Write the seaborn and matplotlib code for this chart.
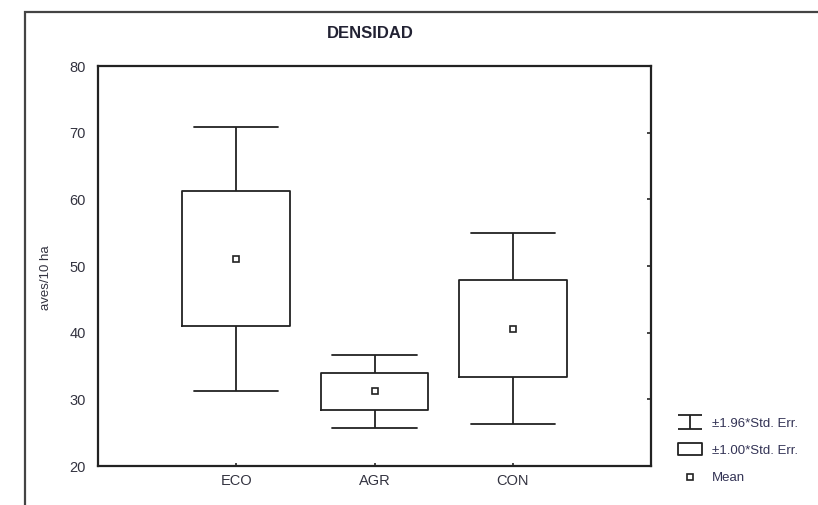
import numpy as np
import pandas as pd
import matplotlib
matplotlib.use("Agg")
import matplotlib.pyplot as plt
from matplotlib.path import Path
from matplotlib.lines import Line2D
from matplotlib.patches import Rectangle
import seaborn as sns

# values
groups = ["ECO", "AGR", "CON"]
means = [51.1, 31.2, 40.6]
std_errs = [10.1, 2.8, 7.3]
yticks = [20, 30, 40, 50, 60, 70, 80]
legend_labels = ["\u00b11.96*Std. Err.", "\u00b11.00*Std. Err.", "Mean"]

sns.set_style("white")
plt.rcParams["font.family"] = ["Liberation Sans", "DejaVu Sans"]
ink = "#222222"

# five points per group so that quartiles = mean +/- SE and min/max = mean +/- 1.96 SE
rows = []
for g, m, s in zip(groups, means, std_errs):
    for k in (-1.96, -1.0, 0.0, 1.0, 1.96):
        rows.append({"grupo": g, "valor": m + k * s})
df = pd.DataFrame(rows)

fig = plt.figure(figsize=(8.18, 5.05), dpi=100)
ax = fig.add_axes([98 / 818, 1 - 466 / 505, 553 / 818, 400 / 505])

sns.boxplot(
    data=df, x="grupo", y="valor", order=groups, ax=ax,
    whis=(0, 100), width=0.78, fill=False, color=ink, linewidth=1.3,
    showmeans=True, showfliers=False,
    medianprops={"linewidth": 0, "alpha": 0},
    meanprops={"marker": "s", "markersize": 4.5, "markerfacecolor": "white",
               "markeredgecolor": ink, "markeredgewidth": 1.2},
)
# widen the caps
for ln in ax.lines:
    xd = np.asarray(ln.get_xdata(), dtype=float)
    yd = np.asarray(ln.get_ydata(), dtype=float)
    if len(xd) == 2 and yd[0] == yd[1] and xd[0] != xd[1]:
        c = xd.mean()
        ln.set_xdata([c - 0.305, c + 0.305])

ax.set_xlim(-1, 3)
ax.set_ylim(20, 80)
ax.set_yticks(yticks)
ax.set_xlabel("")
ax.set_ylabel("")
for side in ["left", "right", "top", "bottom"]:
    ax.spines[side].set_visible(True)
    ax.spines[side].set_linewidth(1.6)
    ax.spines[side].set_color(ink)
ax.tick_params(axis="y", left=False, right=True, direction="in", length=3,
               width=1.2, pad=9, labelsize=10.5, labelcolor="#333340")
ax.tick_params(axis="x", bottom=True, direction="in", length=2, width=1.2,
               pad=6, labelsize=10.5, labelcolor="#333340")

fig.text(46 / 818, 1 - 278 / 505, "aves/10 ha", rotation=90, ha="center",
         va="center", fontsize=9.5, color="#333340")
fig.text(370 / 818, 1 - 33 / 505, "DENSIDAD", ha="center", va="center",
         fontsize=12, fontweight="bold", color="#222233")

# outer frame (cut off on the right and bottom)
fig.patches.append(Rectangle((25 / 818, -0.1), 1.0, 1 - 12 / 505 + 0.1,
                             transform=fig.transFigure, fill=False,
                             edgecolor="#444444", linewidth=1.6))

# legend symbols
ibeam = Path([(-1, 0.62), (1, 0.62), (0, 0.62), (0, -0.62), (-1, -0.62), (1, -0.62)],
             [Path.MOVETO, Path.LINETO, Path.MOVETO, Path.LINETO,
              Path.MOVETO, Path.LINETO])
boxsym = Path([(-1, -0.5), (1, -0.5), (1, 0.5), (-1, 0.5), (-1, -0.5)],
              [Path.MOVETO, Path.LINETO, Path.LINETO, Path.LINETO, Path.CLOSEPOLY])
handles = [
    Line2D([], [], linestyle="none", marker=ibeam, markersize=17,
           markerfacecolor="none", markeredgecolor=ink, markeredgewidth=1.3),
    Line2D([], [], linestyle="none", marker=boxsym, markersize=17,
           markerfacecolor="none", markeredgecolor=ink, markeredgewidth=1.3),
    Line2D([], [], linestyle="none", marker="s", markersize=4.5,
           markerfacecolor="white", markeredgecolor=ink, markeredgewidth=1.2),
]
fig.legend(handles, legend_labels, loc="upper left",
           bbox_to_anchor=(672 / 818, 1 - 412 / 505), frameon=False,
           fontsize=9.5, labelcolor="#333355", handlelength=2.0,
           handletextpad=0.6, labelspacing=1.15, borderaxespad=0)

fig.savefig("out.png", dpi=100)
